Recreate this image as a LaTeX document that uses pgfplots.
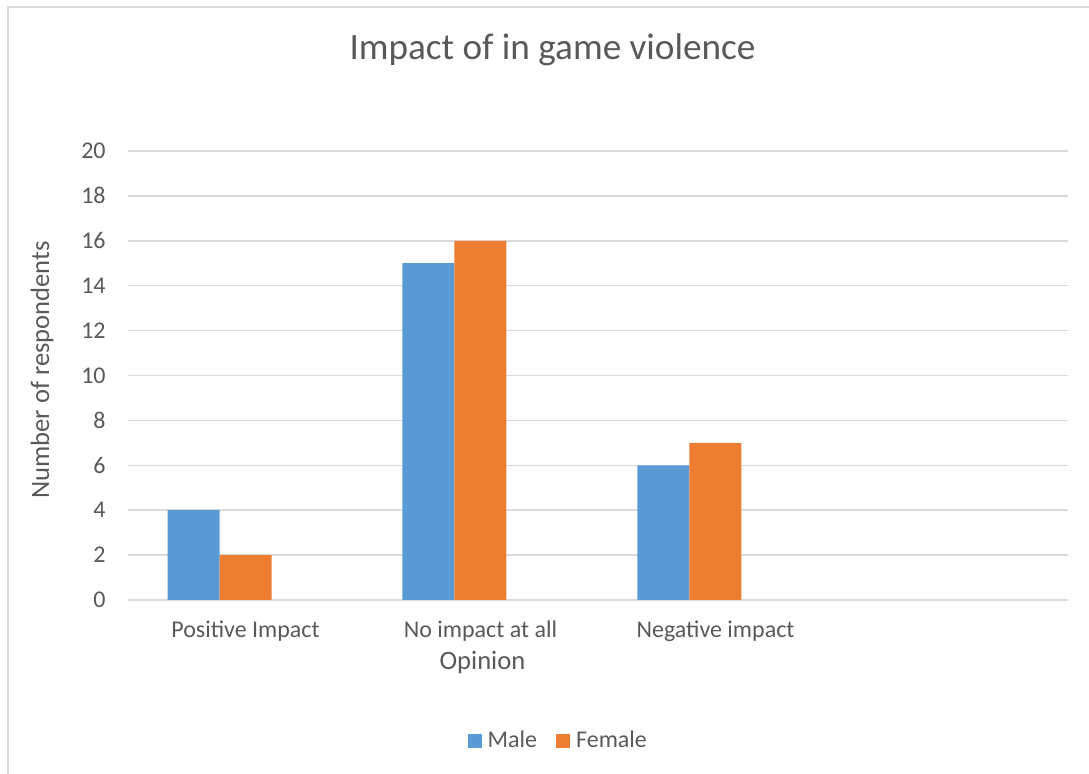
\documentclass[border=0pt]{standalone}
\usepackage{pgfplots}
\pgfplotsset{compat=1.18}
\usepackage{fontspec}
\setmainfont{Carlito}
\definecolor{male}{HTML}{5B9BD5}
\definecolor{female}{HTML}{ED7D31}
\definecolor{txt}{HTML}{595959}
\definecolor{gridc}{HTML}{D9D9D9}
\begin{document}
\begin{tikzpicture}[x=1pt,y=1pt]
\useasboundingbox (0,0) rectangle (544.5,387);
% chart area frame
\draw[gridc, line width=0.75pt] (4,0) -- (4,383.5) -- (544.5,383.5);
% title
\node[text=txt, font=\fontsize{18.6}{22}\selectfont, anchor=center] at (276.25,362) {Impact of in game violence};
% axis titles
\node[text=txt, font=\fontsize{13.3}{16}\selectfont, rotate=90, anchor=center] at (21,202) {Number of respondents};
\node[text=txt, font=\fontsize{13.3}{16}\selectfont, anchor=base] at (241.25,52) {Opinion};
\begin{axis}[
  at={(64pt,87pt)}, anchor=south west,
  scale only axis, width=470pt, height=224.5pt,
  xmin=-0.5, xmax=3.5, ymin=0, ymax=20,
  xtick={0,1,2},
  xticklabels={Positive Impact, No impact at all, Negative impact},
  ytick={0,2,...,20},
  ymajorgrids, grid style={gridc, line width=0.75pt},
  axis line style={draw=none},
  major tick length=0pt,
  /pgf/number format/assume math mode=true,
  ticklabel style={text=txt, font=\fontsize{12}{14}\selectfont},
  yticklabel style={anchor=east, inner sep=0pt, xshift=-11pt},
  xticklabel style={anchor=base, inner sep=0pt, yshift=-19pt},
  legend columns=2,
  legend style={at={(0.4588,-0.314)}, anchor=center, draw=none, fill=none,
    text=txt, font=\fontsize{12}{14}\selectfont,
    /tikz/every even column/.append style={column sep=7.5pt}},
  legend image code/.code={\fill[#1] (0pt,-3.5pt) rectangle (7pt,3.5pt);
    \path (0pt,0pt) -- (8pt,0pt);},
]
\addplot[ybar, bar width=26pt, bar shift=-26pt, fill=male, draw=none]
  coordinates {(0,4) (1,15) (2,6)};
\addlegendentry{Male}
\addplot[ybar, bar width=26pt, bar shift=0pt, fill=female, draw=none]
  coordinates {(0,2) (1,16) (2,7)};
\addlegendentry{Female}
\end{axis}
\end{tikzpicture}
\end{document}
